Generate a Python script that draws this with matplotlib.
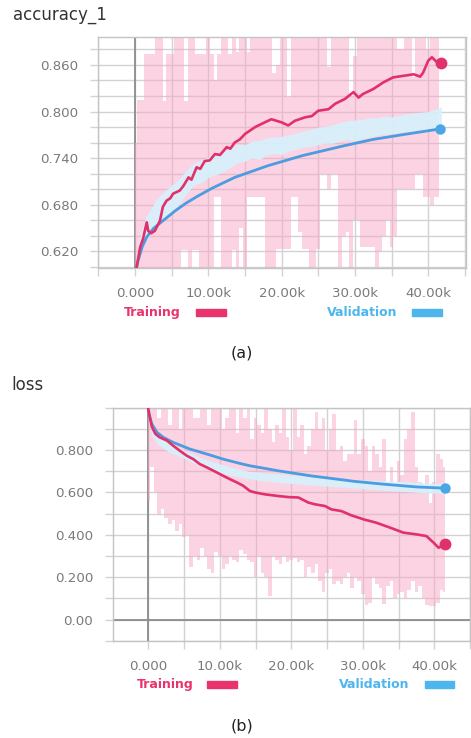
import matplotlib
matplotlib.use('Agg')
import matplotlib.pyplot as plt
from matplotlib.ticker import FixedLocator, FixedFormatter, MultipleLocator, FuncFormatter
from matplotlib.patches import Rectangle

# ---------------- data (steps in thousands) ----------------
raw_steps_k = [0.0, 0.5, 1.0, 1.5, 2.0, 2.5, 3.0, 3.5, 4.0, 4.5,
               5.0, 5.5, 6.0, 6.5, 7.0, 7.5, 8.0, 8.5, 9.0, 9.5,
               10.0, 10.5, 11.0, 11.5, 12.0, 12.5, 13.0, 13.5, 14.0, 14.5,
               15.0, 15.5, 16.0, 16.5, 17.0, 17.5, 18.0, 18.5, 19.0, 19.5,
               20.0, 20.5, 21.0, 21.5, 22.0, 22.5, 23.0, 23.5, 24.0, 24.5,
               25.0, 25.5, 26.0, 26.5, 27.0, 27.5, 28.0, 28.5, 29.0, 29.5,
               30.0, 30.5, 31.0, 31.5, 32.0, 32.5, 33.0, 33.5, 34.0, 34.5,
               35.0, 35.5, 36.0, 36.5, 37.0, 37.5, 38.0, 38.5, 39.0, 39.5,
               40.0, 40.5, 41.0, 41.5]

# accuracy: raw training (envelope of spikes)
acc_train_raw_hi = [0.76, 0.815, 0.815, 0.874, 0.874, 0.874, 0.90, 0.90, 0.814, 0.874,
                    0.874, 0.90, 0.90, 0.90, 0.814, 0.90, 0.90, 0.874, 0.874, 0.874,
                    0.90, 0.874, 0.84, 0.874, 0.90, 0.90, 0.874, 0.90, 0.877, 0.90,
                    0.90, 0.877, 0.90, 0.90, 0.90, 0.90, 0.90, 0.90, 0.85, 0.86,
                    0.90, 0.90, 0.819, 0.90, 0.90, 0.90, 0.90, 0.90, 0.90, 0.90,
                    0.90, 0.90, 0.90, 0.857, 0.90, 0.90, 0.90, 0.90, 0.90, 0.82,
                    0.871, 0.90, 0.90, 0.90, 0.90, 0.90, 0.90, 0.90, 0.90, 0.90,
                    0.90, 0.90, 0.881, 0.881, 0.90, 0.90, 0.845, 0.90, 0.90, 0.90,
                    0.88, 0.90, 0.90, 0.90]
acc_train_raw_lo = [0.59, 0.59, 0.59, 0.59, 0.59, 0.59, 0.59, 0.59, 0.59, 0.59,
                    0.59, 0.59, 0.59, 0.621, 0.621, 0.59, 0.621, 0.621, 0.59, 0.59,
                    0.59, 0.59, 0.69, 0.69, 0.59, 0.59, 0.59, 0.621, 0.59, 0.65,
                    0.59, 0.69, 0.69, 0.69, 0.69, 0.69, 0.59, 0.59, 0.59, 0.623,
                    0.623, 0.623, 0.623, 0.69, 0.69, 0.645, 0.623, 0.623, 0.59, 0.60,
                    0.623, 0.72, 0.72, 0.70, 0.72, 0.72, 0.60, 0.64, 0.645, 0.59,
                    0.66, 0.66, 0.625, 0.625, 0.625, 0.625, 0.60, 0.62, 0.64, 0.66,
                    0.625, 0.64, 0.70, 0.70, 0.70, 0.70, 0.70, 0.72, 0.72, 0.69,
                    0.69, 0.68, 0.69, 0.69]

# accuracy: smoothed training
acc_train_x = [0.2, 0.7, 1.1, 1.6, 1.8, 2.2, 2.7, 3.4, 3.8, 4.3, 4.8, 5.2, 6.1, 6.6,
               7.3, 7.7, 8.4, 8.9, 9.5, 10.2, 10.9, 11.6, 12.5, 13.0, 13.6, 14.3,
               15.0, 16.4, 17.7, 18.6, 20.0, 20.9, 21.8, 23.2, 24.1, 25.0, 26.4,
               27.3, 28.6, 29.8, 30.5, 31.1, 32.5, 33.9, 35.2, 36.6, 38.0, 38.9,
               39.3, 40.0, 40.5, 41.2, 41.7]
acc_train_y = [0.598, 0.625, 0.636, 0.657, 0.646, 0.643, 0.646, 0.659, 0.677, 0.685,
               0.688, 0.694, 0.698, 0.704, 0.715, 0.712, 0.728, 0.726, 0.736, 0.737,
               0.745, 0.744, 0.754, 0.752, 0.760, 0.764, 0.771, 0.780, 0.786, 0.790,
               0.786, 0.782, 0.788, 0.7925, 0.794, 0.801, 0.803, 0.810, 0.816, 0.825,
               0.818, 0.8226, 0.829, 0.8377, 0.844, 0.846, 0.848, 0.845, 0.850,
               0.8656, 0.870, 0.8635, 0.863]

# accuracy: raw validation band
val_steps_k = [0.0, 0.5, 1.0, 1.5, 2.0, 3.0, 4.0, 5.0, 6.0, 7.0, 8.0, 9.0, 10.0,
               11.0, 12.0, 13.0, 14.0, 15.0, 16.0, 17.0, 18.0, 19.0, 20.0, 21.0,
               22.0, 23.0, 24.0, 25.0, 26.0, 27.0, 28.0, 29.0, 30.0, 31.0, 32.0,
               33.0, 34.0, 35.0, 36.0, 37.0, 38.0, 39.0, 40.0, 41.0, 41.8]
acc_val_raw_lo = [0.60, 0.612, 0.625, 0.635, 0.64, 0.652, 0.66, 0.672, 0.68, 0.694,
                  0.705, 0.708, 0.715, 0.718, 0.722, 0.728, 0.734, 0.736, 0.740, 0.738,
                  0.744, 0.746, 0.744, 0.749, 0.751, 0.754, 0.755, 0.757, 0.759, 0.759,
                  0.762, 0.764, 0.762, 0.765, 0.767, 0.769, 0.771, 0.771, 0.773, 0.774,
                  0.774, 0.776, 0.777, 0.779, 0.781]
acc_val_raw_hi = [0.60, 0.63, 0.65, 0.665, 0.672, 0.688, 0.697, 0.705, 0.713, 0.724,
                  0.733, 0.737, 0.741, 0.745, 0.748, 0.752, 0.758, 0.757, 0.762, 0.763,
                  0.766, 0.767, 0.768, 0.770, 0.772, 0.775, 0.777, 0.780, 0.781, 0.783,
                  0.786, 0.788, 0.789, 0.790, 0.792, 0.792, 0.794, 0.793, 0.795, 0.797,
                  0.798, 0.799, 0.800, 0.803, 0.806]

# accuracy: smoothed validation
acc_val_x = [0.2, 0.4, 1.0, 1.6, 2.5, 3.8, 5.5, 7.0, 8.4, 10.5, 13.6, 16.0, 18.1,
             22.8, 28.6, 32.5, 37.1, 41.6]
acc_val_y = [0.598, 0.607, 0.626, 0.638, 0.649, 0.659, 0.672, 0.682, 0.690, 0.701,
             0.715, 0.723, 0.730, 0.743, 0.756, 0.764, 0.771, 0.7775]

# loss: raw training envelope
loss_train_raw_hi = [1.05, 1.05, 1.05, 0.95, 1.05, 1.05, 0.92, 1.05, 1.05, 0.90,
                     1.05, 1.05, 1.05, 0.95, 0.95, 1.05, 1.05, 0.92, 1.05, 1.05,
                     1.05, 0.90, 0.95, 1.05, 1.05, 0.88, 1.05, 0.95, 1.05, 0.85,
                     0.95, 0.92, 0.88, 1.0, 0.90, 0.84, 0.92, 0.88, 1.0, 0.86,
                     0.80, 1.0, 0.86, 0.92, 0.78, 0.82, 0.90, 0.98, 0.90, 0.95,
                     0.80, 0.90, 0.97, 0.80, 0.82, 0.75, 0.78, 0.78, 0.94, 0.78,
                     0.85, 0.82, 0.70, 0.82, 0.78, 0.72, 0.85, 0.65, 0.72, 0.62,
                     0.75, 0.68, 0.85, 0.90, 0.98, 0.72, 0.65, 0.62, 0.68, 0.55,
                     0.65, 0.78, 0.76, 0.72]
loss_train_raw_lo = [0.56, 0.72, 0.60, 0.50, 0.52, 0.48, 0.45, 0.47, 0.42, 0.45,
                     0.39, 0.40, 0.25, 0.30, 0.28, 0.34, 0.30, 0.24, 0.22, 0.32,
                     0.30, 0.24, 0.26, 0.30, 0.28, 0.27, 0.33, 0.31, 0.28, 0.27,
                     0.20, 0.30, 0.22, 0.20, 0.11, 0.30, 0.28, 0.26, 0.30, 0.27,
                     0.28, 0.29, 0.27, 0.28, 0.20, 0.25, 0.22, 0.26, 0.18, 0.13,
                     0.22, 0.24, 0.17, 0.18, 0.17, 0.20, 0.22, 0.15, 0.20, 0.18,
                     0.12, 0.07, 0.08, 0.20, 0.17, 0.15, 0.075, 0.16, 0.18, 0.10,
                     0.12, 0.13, 0.10, 0.14, 0.18, 0.13, 0.16, 0.10, 0.07, 0.063,
                     0.065, 0.08, 0.14, 0.13]

# loss: smoothed training
loss_train_x = [0.0, 0.5, 1.0, 1.6, 2.6, 3.5, 4.4, 5.4, 6.3, 7.2, 8.2, 9.6, 10.5,
                11.4, 12.4, 13.3, 14.2, 14.9, 16.3, 18.2, 19.6, 21.0, 22.4, 23.3,
                24.7, 25.6, 27.0, 28.4, 30.1, 31.9, 33.8, 35.7, 37.5, 38.9, 39.9,
                40.6, 41.5]
loss_train_y = [0.994, 0.909, 0.876, 0.860, 0.845, 0.820, 0.797, 0.773, 0.757, 0.734,
                0.718, 0.694, 0.678, 0.663, 0.647, 0.631, 0.607, 0.600, 0.591, 0.583,
                0.578, 0.576, 0.552, 0.544, 0.536, 0.520, 0.512, 0.492, 0.473, 0.457,
                0.434, 0.410, 0.402, 0.394, 0.363, 0.339, 0.355]

# loss: raw validation band
loss_val_raw_lo = [0.95, 0.87, 0.84, 0.82, 0.81, 0.79, 0.775, 0.76, 0.745, 0.73,
                   0.715, 0.705, 0.695, 0.685, 0.678, 0.67, 0.665, 0.66, 0.655, 0.652,
                   0.648, 0.645, 0.643, 0.64, 0.637, 0.634, 0.632, 0.63, 0.627, 0.625,
                   0.622, 0.62, 0.618, 0.615, 0.613, 0.61, 0.608, 0.606, 0.604, 0.602,
                   0.60, 0.598, 0.597, 0.596, 0.60]
loss_val_raw_hi = [1.0, 0.92, 0.885, 0.865, 0.85, 0.83, 0.815, 0.80, 0.785, 0.77,
                   0.755, 0.745, 0.735, 0.725, 0.715, 0.708, 0.70, 0.698, 0.694, 0.69,
                   0.688, 0.685, 0.683, 0.68, 0.677, 0.675, 0.672, 0.67, 0.668, 0.666,
                   0.664, 0.662, 0.66, 0.658, 0.656, 0.655, 0.653, 0.652, 0.65, 0.648,
                   0.647, 0.645, 0.644, 0.643, 0.64]

# loss: smoothed validation
loss_val_x = [0.0, 0.5, 1.2, 2.1, 3.5, 5.8, 8.2, 10.5, 12.8, 14.2, 18.2, 22.8,
              28.9, 32.9, 37.5, 41.5]
loss_val_y = [0.979, 0.923, 0.884, 0.860, 0.836, 0.805, 0.781, 0.757, 0.737, 0.726,
              0.702, 0.678, 0.652, 0.639, 0.626, 0.620]

acc_yticks = [0.62, 0.68, 0.74, 0.80, 0.86]
acc_ylabels = ['0.620', '0.680', '0.740', '0.800', '0.860']
loss_yticks = [0.0, 0.2, 0.4, 0.6, 0.8]
loss_ylabels = ['0.00', '0.200', '0.400', '0.600', '0.800']

# ---------------- style ----------------
PINK = '#f9a8c6'
RED = '#e2306a'
LIGHTBLUE = '#d6f1fc'
BLUE = '#4b9ce0'
SW_RED = '#e8336c'
SW_BLUE = '#4db6ec'
GRID = '#d2d2d2'
AXDARK = '#8c8c8c'
W, H = 471, 738

fig = plt.figure(figsize=(W / 100, H / 100), dpi=100)
ax1 = fig.add_axes([97.7 / W, 1 - 267.7 / H, (466 - 97.7) / W, (267.7 - 36.7) / H])
ax2 = fig.add_axes([112.7 / W, 1 - 640.7 / H, (470 - 112.7) / W, (640.7 - 407.7) / H])


def xfmt(v, p):
    return '0.000' if abs(v) < 1e-9 else f'{v:.2f}k'


def style(ax, xlim, ylim, yt, yl, yminor):
    ax.set_xlim(*xlim)
    ax.set_ylim(*ylim)
    ax.xaxis.set_major_locator(MultipleLocator(10))
    ax.xaxis.set_minor_locator(MultipleLocator(5))
    ax.xaxis.set_major_formatter(FuncFormatter(xfmt))
    ax.yaxis.set_major_locator(FixedLocator(yt))
    ax.yaxis.set_major_formatter(FixedFormatter(yl))
    ax.yaxis.set_minor_locator(MultipleLocator(yminor))
    ax.set_axisbelow(True)
    ax.grid(True, which='both', color=GRID, lw=1.0)
    ax.tick_params(which='both', length=6, width=1, color=GRID,
                   labelcolor='#7a7a7a', labelsize=9.6, pad=8)
    for s in ax.spines.values():
        s.set_color('#c4c4c4')
        s.set_linewidth(1.0)


style(ax1, (-5.09, 45.15), (0.5985, 0.8965), acc_yticks, acc_ylabels, 0.02)
style(ax2, (-4.98, 45.0), (-0.1, 1.0), loss_yticks, loss_ylabels, 0.1)

ax1.axvline(0, color=AXDARK, lw=1.3, zorder=0.8)
ax2.axvline(0, color=AXDARK, lw=1.3, zorder=0.8)
ax2.axhline(0, color=AXDARK, lw=1.3, zorder=0.8)

# accuracy panel
ax1.fill_between(raw_steps_k, acc_train_raw_lo, acc_train_raw_hi, step='mid',
                 color=PINK, alpha=0.5, lw=0, zorder=1)
ax1.fill_between(val_steps_k, acc_val_raw_lo, acc_val_raw_hi,
                 color=LIGHTBLUE, alpha=0.92, lw=0, zorder=2)
ax1.plot(acc_val_x, acc_val_y, color=BLUE, lw=2.0, zorder=3, solid_capstyle='round')
ax1.plot(acc_train_x, acc_train_y, color=RED, lw=1.9, zorder=4)
ax1.plot(acc_train_x[-1:], acc_train_y[-1:], 'o', color=RED, ms=8.5, zorder=5, mec='none')
ax1.plot(acc_val_x[-1:], acc_val_y[-1:], 'o', color='#4aa6e6', ms=7.5, zorder=5, mec='none')

# loss panel
ax2.fill_between(raw_steps_k, loss_train_raw_lo, loss_train_raw_hi, step='mid',
                 color=PINK, alpha=0.5, lw=0, zorder=1)
ax2.fill_between(val_steps_k, loss_val_raw_lo, loss_val_raw_hi,
                 color=LIGHTBLUE, alpha=0.92, lw=0, zorder=2)
ax2.plot(loss_val_x, loss_val_y, color=BLUE, lw=2.0, zorder=3, solid_capstyle='round')
ax2.plot(loss_train_x, loss_train_y, color=RED, lw=1.9, zorder=4)
ax2.plot(loss_train_x[-1:], loss_train_y[-1:], 'o', color=RED, ms=8.5, zorder=5, mec='none')
ax2.plot(loss_val_x[-1:], loss_val_y[-1:], 'o', color='#4aa6e6', ms=7.5, zorder=5, mec='none')

# titles
fig.text(12.5 / W, 1 - 15 / H, 'accuracy_1', fontsize=12, color='#333333', va='center')
fig.text(11 / W, 1 - 385 / H, 'loss', fontsize=12, color='#333333', va='center')


def legend(yc, tx, sx, vx, vsx):
    fig.text(tx / W, 1 - yc / H, 'Training', color=SW_RED, fontsize=9,
             fontweight='bold', va='center')
    fig.text(vx / W, 1 - yc / H, 'Validation', color=SW_BLUE, fontsize=9,
             fontweight='bold', va='center')
    fig.patches.append(Rectangle((sx / W, 1 - (yc + 3.5) / H), 29.5 / W, 7 / H,
                                 transform=fig.transFigure, color=SW_RED))
    fig.patches.append(Rectangle((vsx / W, 1 - (yc + 3.5) / H), 29.5 / W, 7 / H,
                                 transform=fig.transFigure, color=SW_BLUE))


legend(312.5, 124, 196, 326.7, 412)
legend(684.5, 136.7, 207.3, 339.3, 424.5)

fig.text(241.7 / W, 1 - 352.7 / H, '(a)', fontsize=11.5, color='#222222',
         ha='center', va='center')
fig.text(241.7 / W, 1 - 726 / H, '(b)', fontsize=11.5, color='#222222',
         ha='center', va='center')

fig.savefig('out.png', dpi=100)
